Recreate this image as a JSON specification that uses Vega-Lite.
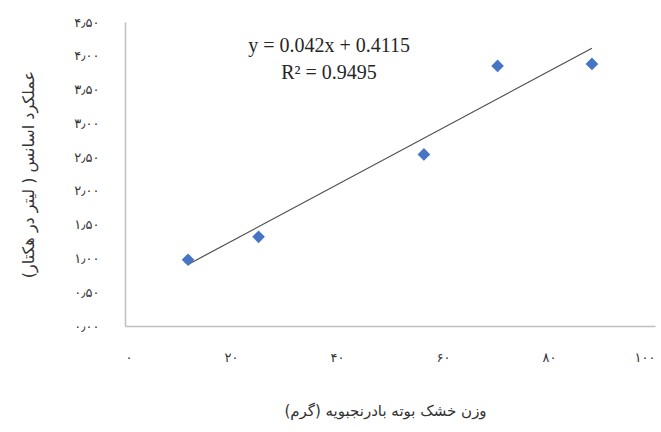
{
  "$schema": "https://vega.github.io/schema/vega-lite/v6.json",
  "autosize": {"type": "none"},
  "padding": {"left": 125, "top": 22, "right": 6, "bottom": 106},
  "width": 530,
  "height": 304,
  "background": "white",
  "config": {"view": {"stroke": null}},
  "datasets": {
    "points": [
      {"x": 11.9, "y": 0.98},
      {"x": 25.2, "y": 1.32},
      {"x": 56.4, "y": 2.54},
      {"x": 70.3, "y": 3.85},
      {"x": 88.1, "y": 3.88}
    ],
    "trend": [
      {"x": 11.9, "y": 0.9113},
      {"x": 88.1, "y": 4.1117}
    ],
    "labels": [
      {"x": 38.5, "y": 4.15, "t": "y = 0.042x + 0.4115"},
      {"x": 38.5, "y": 3.75, "t": "R² = 0.9495"}
    ]
  },
  "encoding": {
    "x": {
      "field": "x", "type": "quantitative",
      "scale": {"domain": [0, 100], "nice": false, "zero": false},
      "axis": {
        "values": [0, 20, 40, 60, 80, 100],
        "grid": false, "ticks": false,
        "domainColor": "#bfbfbf", "domainWidth": 1.5,
        "labelPadding": 25, "labelFont": "DejaVu Sans", "labelFontSize": 13, "labelColor": "#333333",
        "labelExpr": "replace(replace(replace(replace(replace(replace(format(datum.value,'d'),regexp('0','g'),'۰'),regexp('1','g'),'۱'),regexp('2','g'),'۲'),regexp('4','g'),'۴'),regexp('6','g'),'۶'),regexp('8','g'),'۸')",
        "title": "وزن خشک بوته بادرنجبویه (گرم)",
        "titleFont": "DejaVu Sans", "titleFontSize": 15, "titleFontWeight": "normal", "titleColor": "#333333",
        "titleX": 260, "titleY": 84, "titleBaseline": "middle"
      }
    },
    "y": {
      "field": "y", "type": "quantitative",
      "scale": {"domain": [0, 4.5], "nice": false, "zero": false},
      "axis": {
        "values": [0, 0.5, 1, 1.5, 2, 2.5, 3, 3.5, 4, 4.5],
        "grid": false, "ticks": false,
        "domainColor": "#bfbfbf", "domainWidth": 1.5,
        "labelPadding": 26, "labelFont": "DejaVu Sans", "labelFontSize": 13, "labelColor": "#333333",
        "labelExpr": "replace(replace(replace(replace(replace(replace(replace(format(datum.value,'.2f'),regexp('\\\\.','g'),'٫'),regexp('0','g'),'۰'),regexp('1','g'),'۱'),regexp('2','g'),'۲'),regexp('3','g'),'۳'),regexp('4','g'),'۴'),regexp('5','g'),'۵')",
        "title": "عملکرد اسانس ( لیتر در هکتار)",
        "titleFont": "DejaVu Sans", "titleFontSize": 16, "titleFontWeight": "normal", "titleColor": "#333333",
        "titleX": -97, "titleY": 152, "titleAngle": -90, "titleBaseline": "middle", "titleAlign": "center"
      }
    }
  },
  "layer": [
    {
      "data": {"name": "trend"},
      "mark": {"type": "line", "color": "#4d4d4d", "strokeWidth": 1.2}
    },
    {
      "data": {"name": "points"},
      "mark": {"type": "point", "shape": "diamond", "filled": true, "size": 160, "color": "#4575c4", "opacity": 1}
    },
    {
      "data": {"name": "labels"},
      "mark": {"type": "text", "font": "Liberation Serif", "fontSize": 20, "color": "#262626", "align": "center", "baseline": "middle"},
      "encoding": {"text": {"field": "t"}}
    }
  ]
}
